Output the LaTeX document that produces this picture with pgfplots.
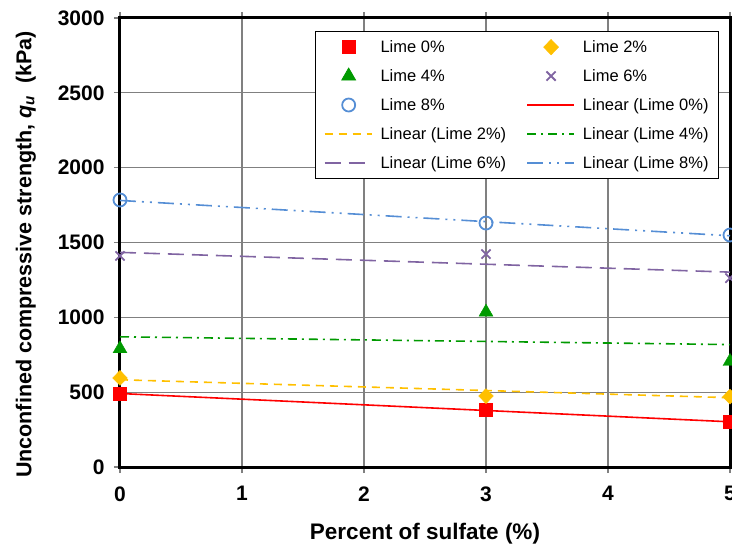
\documentclass[border=0pt]{standalone}
\usepackage{pgfplots}
\pgfplotsset{compat=1.18}
\usepackage{fontspec}
\setmainfont{Liberation Sans}
\definecolor{cRed}{HTML}{FF0000}
\definecolor{cOrange}{HTML}{FFC000}
\definecolor{cGreen}{HTML}{009A00}
\definecolor{cPurple}{HTML}{8064A2}
\definecolor{cBlue}{HTML}{558ED5}
\definecolor{cGrid}{HTML}{808080}
\pgfplotsset{
  legmark/.style={legend image code/.code={\draw[##1] plot coordinates {(24bp,0bp)};}},
  legline/.style={legend image code/.code={\draw[##1, line width=1.8bp] (0bp,0bp) -- (47bp,0bp);}},
}
\begin{document}
\begin{tikzpicture}
\begin{axis}[
  at={(0,0)}, anchor=south west,
  scale only axis, width=610bp, height=449bp,
  xmin=0, xmax=5, ymin=0, ymax=3000,
  xtick={0,1,2,3,4,5}, ytick={0,500,1000,1500,2000,2500,3000},
  clip=false,
  axis line style={line width=3bp, black},
  grid=major, major grid style={cGrid, line width=1.2bp},
  tick align=outside, major tick length=6bp,
  tick style={cGrid, line width=1.2bp},
  /pgf/number format/assume math mode=true,
  /pgf/number format/1000 sep={},
  ticklabel style={font=\fontsize{21bp}{24bp}\selectfont\bfseries},
  xticklabel style={yshift=-10bp},
  yticklabel style={xshift=-6bp},
  xlabel={Percent of sulfate (\%)},
  ylabel={Unconfined compressive strength, \textit{q}\textsubscript{\textit{u}}\ \ (kPa)},
  xlabel style={font=\fontsize{22.5bp}{26bp}\selectfont\bfseries, yshift=-15bp},
  ylabel style={font=\fontsize{21.5bp}{25bp}\selectfont\bfseries, yshift=15bp, xshift=-12bp},
  legend columns=2,
  legend cell align=left,
  legend style={at={(0.982,0.971)}, anchor=north east, draw=black, line width=0.8bp,
    font=\fontsize{16.5bp}{20bp}\selectfont, row sep=11.5bp, inner xsep=8bp, inner ysep=7bp,
    /tikz/every odd column/.append style={column sep=6bp},
    /tikz/every even column/.append style={column sep=18bp}},
]
% data points
\addplot[only marks, mark=square*, mark size=6.5bp, color=cRed, legmark]
  coordinates {(0,490) (3,381) (5,300)};
\addlegendentry{Lime 0\%}
\addplot[only marks, mark=diamond*, mark size=7.5bp, mark options={xscale=1.3}, color=cOrange, legmark]
  coordinates {(0,595) (3,474) (5,470)};
\addlegendentry{Lime 2\%}
\addplot[only marks, mark=triangle*, mark size=8bp, color=cGreen, legmark]
  coordinates {(0,790) (3,1035) (5,705)};
\addlegendentry{Lime 4\%}
\addplot[only marks, mark=x, mark size=6.5bp, line width=1.8bp, color=cPurple, legmark]
  coordinates {(0,1410) (3,1423) (5,1262)};
\addlegendentry{Lime 6\%}
\addplot[only marks, mark=o, mark size=6.5bp, line width=1.8bp, color=cBlue, legmark]
  coordinates {(0,1784) (3,1630) (5,1550)};
\addlegendentry{Lime 8\%}
% trend lines
\addplot[no marks, line width=1.6bp, color=cRed, legline] coordinates {(0,491) (5,302)};
\addlegendentry{Linear (Lime 0\%)}
\addplot[no marks, line width=1.6bp, color=cOrange, dash pattern=on 8bp off 6bp, legline] coordinates {(0,583) (5,463)};
\addlegendentry{Linear (Lime 2\%)}
\addplot[no marks, line width=1.6bp, color=cGreen, dash pattern=on 9bp off 5bp on 2bp off 5bp, legline] coordinates {(0,870) (5,818)};
\addlegendentry{Linear (Lime 4\%)}
\addplot[no marks, line width=1.6bp, color=cPurple, dash pattern=on 16bp off 8bp, legline] coordinates {(0,1434) (5,1302)};
\addlegendentry{Linear (Lime 6\%)}
\addplot[no marks, line width=1.6bp, color=cBlue, dash pattern=on 16bp off 6bp on 2bp off 6bp on 2bp off 6bp, legline] coordinates {(0,1781) (5,1545)};
\addlegendentry{Linear (Lime 8\%)}
\end{axis}
\pgfresetboundingbox
\path (-120bp,-80bp) rectangle (612bp,467bp);
\end{tikzpicture}
\end{document}
